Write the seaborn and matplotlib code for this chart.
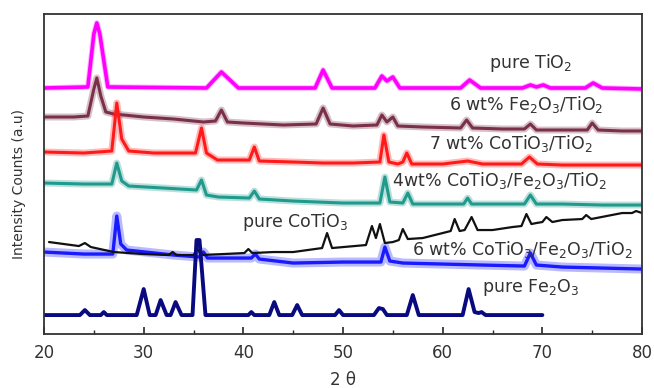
import matplotlib
matplotlib.use("Agg")
import matplotlib.pyplot as plt
import seaborn as sns
import pandas as pd

# XRD patterns, vertices (2theta in degrees, intensity in a.u. with offsets)
tio2_x = [20, 24.4, 25.0, 25.3, 25.6, 26.4, 36.3, 37.8, 39.5, 47.2, 48.0, 48.9, 53.2, 53.9, 54.4, 55.0, 55.7,
          61.8, 62.7, 63.8, 68.0, 68.8, 69.4, 70.1, 70.8, 74.3, 75.1, 76.0, 80]
tio2_y = [246, 247, 300, 311, 300, 247, 246, 262, 246, 246, 264, 246, 246, 258, 253, 257, 246,
          246, 254, 246, 246, 249, 247, 249, 246, 246, 251, 246, 245]

fe_tio2_x = [20, 23, 24.4, 25.0, 25.3, 25.7, 26.2, 27, 30, 33, 36, 37.2, 37.8, 38.4, 40, 44, 47.3, 48.0, 48.7,
             51, 53.4, 53.9, 54.4, 55.0, 55.5, 58, 61.8, 62.4, 63.0, 66, 68.2, 68.8, 69.4, 72, 74.5, 75.0,
             75.6, 78, 80]
fe_tio2_y = [217, 217, 218, 245, 256, 238, 222, 220, 217, 215, 212, 213, 224, 212, 211, 209, 210, 226, 210,
             208, 209, 219, 212, 217, 208, 207, 206, 214, 206, 205, 205, 210, 204, 204, 204, 211,
             204, 203, 203]

co_tio2_x = [20, 24, 26.8, 27.3, 27.8, 28.5, 31, 35.2, 35.8, 36.3, 37.4, 40.6, 41.1, 41.6, 45, 48, 51, 53.7,
             54.1, 54.6, 55.5, 56.0, 56.4, 56.9, 60, 62.5, 64, 67.9, 68.7, 69.5, 72, 76, 80]
co_tio2_y = [182, 181, 183, 231, 195, 183, 181, 181, 206, 181, 174, 174, 187, 173, 172, 171, 171, 172,
             199, 172, 170, 172, 181, 170, 170, 173, 170, 170, 177, 170, 169, 169, 169]

co4_x = [20, 24, 26.8, 27.3, 27.8, 28.5, 32, 35.3, 35.8, 36.3, 37.5, 40.6, 41.1, 41.6, 45, 50, 53.7, 54.2,
         54.7, 56.0, 56.5, 57.0, 60, 62.1, 62.5, 62.9, 65, 68.2, 68.8, 69.4, 72, 76, 80]
co4_y = [151, 150, 150, 171, 153, 148, 146, 144, 154, 139, 137, 136, 143, 135, 133, 131, 131, 157,
         132, 131, 141, 130, 130, 130, 136, 130, 130, 130, 139, 130, 130, 129, 129]

cotio3_x = [20.5, 23.5, 24.1, 24.7, 27, 30, 32.5, 32.9, 33.3, 35.0, 35.4, 35.8, 38, 40.1, 40.5, 40.9, 43, 45,
            47.9, 48.4, 48.9, 52.3, 52.9, 53.3, 53.7, 54.2, 55, 55.6, 56.0, 56.5, 58, 60, 60.8, 61.2, 61.7,
            62.2, 62.9, 63.5, 65, 67, 67.9, 68.4, 68.9, 69.4, 70.0, 70.4, 71.0, 72, 74.0, 74.4, 74.9, 78,
            79.0, 79.4, 80]
cotio3_y = [92, 88, 91, 87, 82, 80, 79, 82, 79, 79, 85, 79, 80, 81, 85, 81, 82, 82,
            86, 101, 86, 89, 108, 96, 110, 91, 92, 94, 105, 95, 96, 101, 103, 115, 103,
            104, 117, 104, 104, 107, 108, 120, 110, 111, 112, 117, 112, 114, 115, 119, 115, 121,
            121, 123, 121]

co6_x = [20, 24, 26.9, 27.3, 27.7, 28.3, 33, 35.6, 36.0, 36.4, 40, 40.8, 41.2, 41.6, 45, 50, 53.8, 54.2,
         54.7, 56, 60, 64, 68.2, 68.8, 69.4, 72, 76, 80]
co6_y = [82, 80, 80, 118, 90, 84, 79, 77, 82, 76, 76, 76, 80, 75, 71, 72, 72, 87,
         73, 71, 70, 69, 68, 81, 69, 67, 66, 65]

fe2o3_x = [20, 23.6, 24.1, 24.6, 25.7, 26.0, 26.3, 29.3, 30.0, 30.6, 31.2, 31.7, 32.3, 32.7, 33.2, 33.8,
           34.9, 35.3, 35.6, 36.2, 40.5, 40.8, 41.1, 42.6, 43.1, 43.6, 44.9, 45.4, 45.9, 49.2, 49.6, 50.0,
           53.1, 53.6, 54.0, 54.4, 56.4, 57.0, 57.6, 62.0, 62.6, 63.2, 63.6, 63.9, 64.3, 70]
fe2o3_y = [19, 19, 24, 19, 19, 22, 19, 19, 45, 19, 19, 34, 19, 19, 32, 19,
           19, 94, 94, 19, 19, 22, 19, 19, 32, 19, 19, 29, 19, 19, 24, 19,
           19, 26, 25, 19, 19, 39, 19, 19, 45, 22, 21, 22, 19, 19]

labels = ["pure TiO$_2$", "6 wt% Fe$_2$O$_3$/TiO$_2$", "7 wt% CoTiO$_3$/TiO$_2$",
          "4wt% CoTiO$_3$/Fe$_2$O$_3$/TiO$_2$", "pure CoTiO$_3$",
          "6 wt% CoTiO$_3$/Fe$_2$O$_3$/TiO$_2$", "pure Fe$_2$O$_3$"]

# (x, y, colour, core width, fuzz width) - fuzz stands in for the noisy band of the raw scans
series = [
    (tio2_x, tio2_y, "#ff00ff", 2.6, 4.0),
    (fe_tio2_x, fe_tio2_y, "#7a3048", 2.2, 5.0),
    (co_tio2_x, co_tio2_y, "#ff1a1a", 2.2, 5.0),
    (co4_x, co4_y, "#1f9a8c", 2.2, 5.0),
    (co6_x, co6_y, "#1a1aff", 2.4, 6.5),
    (cotio3_x, cotio3_y, "#111111", 1.6, 0),
    (fe2o3_x, fe2o3_y, "#0a0a80", 2.8, 0),
]
label_pos = [(64.6, 271), (60.6, 229), (58.6, 191), (54.9, 154), (39.9, 112), (56.9, 85), (63.9, 47)]

sns.set_style("ticks")
plt.rcParams['font.family'] = ['DejaVu Sans']

fig = plt.figure(figsize=(6.54, 3.88), dpi=100)
ax = fig.add_axes([0.0673, 0.139, 0.9144, 0.825])

for xs, ys, col, lw, fuzz in series:
    df = pd.DataFrame({"two_theta": xs, "intensity": ys})
    if fuzz:
        sns.lineplot(data=df, x="two_theta", y="intensity", color=col, lw=fuzz, alpha=0.3,
                     sort=False, estimator=None, ax=ax)
    sns.lineplot(data=df, x="two_theta", y="intensity", color=col, lw=lw,
                 sort=False, estimator=None, ax=ax)

for txt, (tx, ty) in zip(labels, label_pos):
    ax.text(tx, ty, txt, fontsize=12.5, color="#333333", ha="left", va="center", clip_on=False)

ax.set_xlim(20, 80)
ax.set_ylim(0, 320)
ax.set_xticks([20, 30, 40, 50, 60, 70, 80])
ax.set_xticks([25, 35, 45, 55, 65, 75], minor=True)
ax.set_yticks([])
ax.tick_params(axis="x", which="major", direction="in", length=5, width=1.2,
               labelsize=12, labelcolor="#333333", pad=7)
ax.tick_params(axis="x", which="minor", direction="in", length=3, width=1.0)
for sp in ax.spines.values():
    sp.set_visible(True)
    sp.set_linewidth(1.3)
    sp.set_color("#333333")

ax.set_xlabel("2 θ", fontsize=12, color="#333333")
ax.xaxis.set_label_coords(0.5, -0.115)
ax.set_ylabel("Intensity Counts (a.u)", fontsize=10, color="#333333")
ax.yaxis.set_label_coords(-0.03, 0.47)

fig.savefig("out.png", dpi=100)
